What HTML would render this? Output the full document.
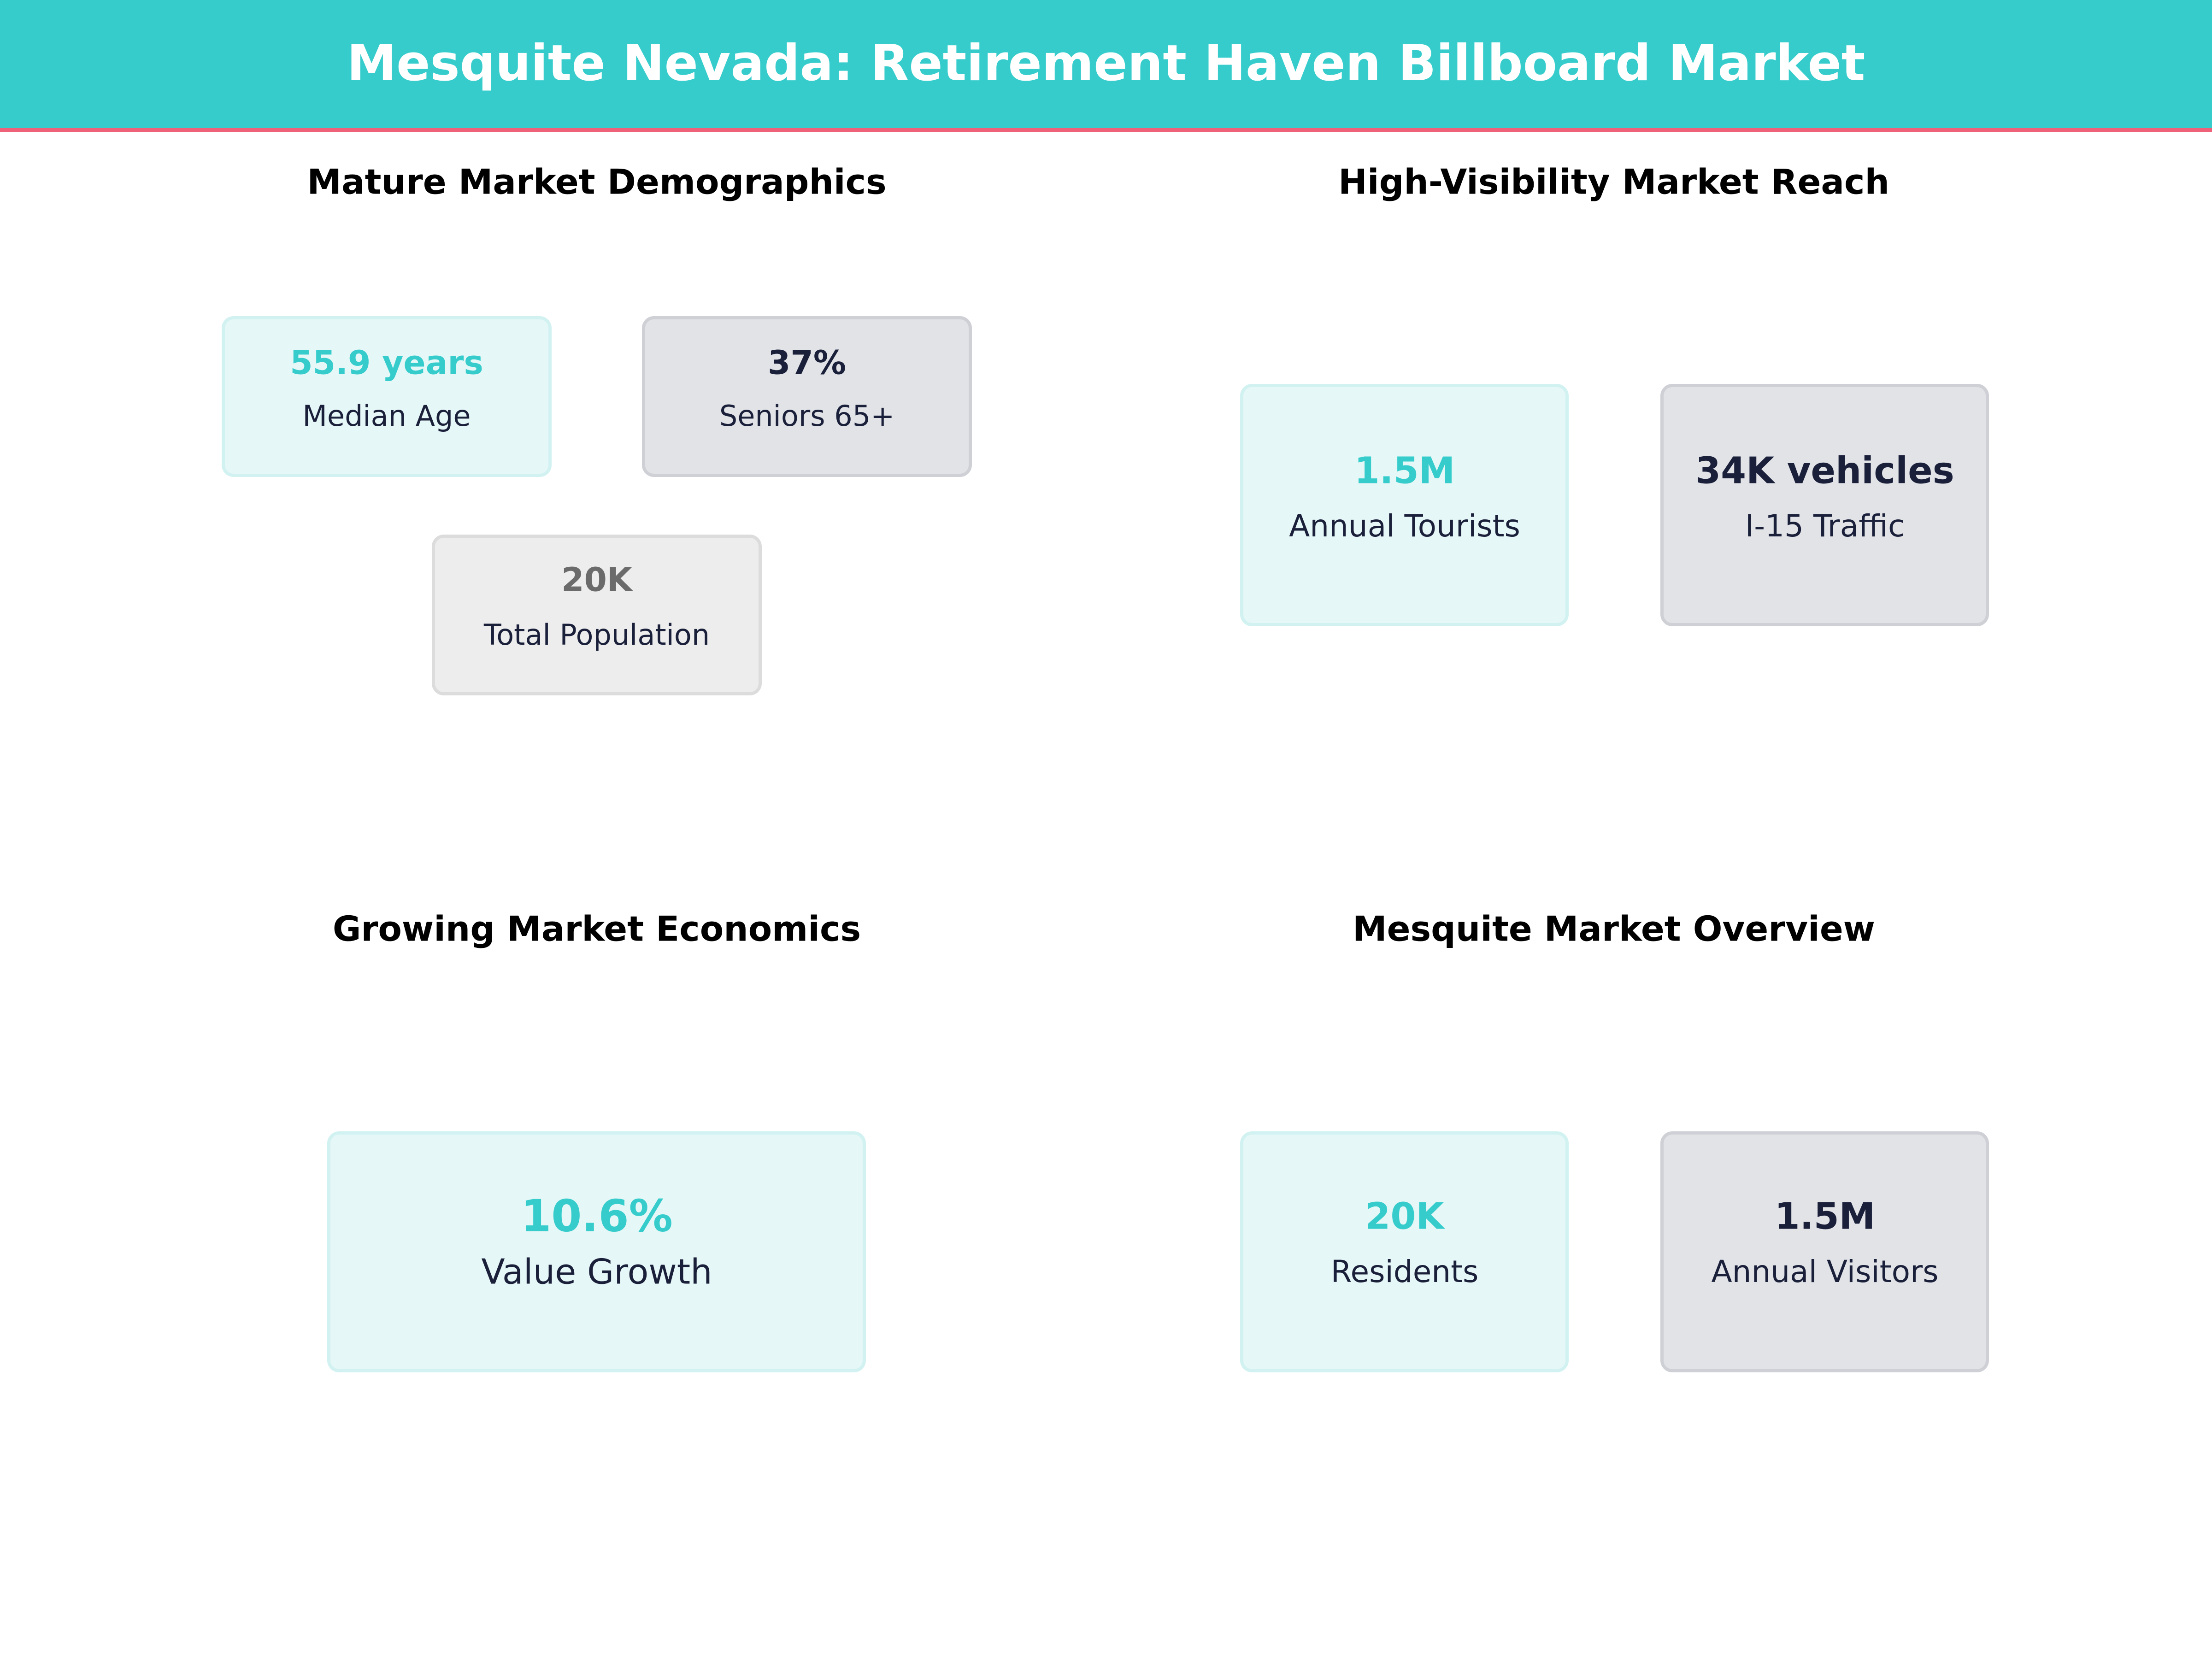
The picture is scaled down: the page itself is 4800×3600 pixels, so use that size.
<!DOCTYPE html>
<html><head><meta charset="utf-8"><style>
body{margin:0;width:4800px;height:3600px;background:#fff;position:relative;overflow:hidden;font-family:"DejaVu Sans","Liberation Sans",sans-serif;}
.hdr{position:absolute;left:0;top:0;width:4800px;height:278px;background:#36CCCC;border-bottom:9px solid #EE6178;}
.t{position:absolute;transform:translate(-50%,-50%);white-space:nowrap;line-height:1;}
.box{position:absolute;box-sizing:border-box;border-radius:26px;border:7px solid;}
.tl{background:#E5F7F7;border-color:#D2F2F2;}
.gr{background:#E2E3E7;border-color:#CFD0D6;}
.lg{background:#EDEDED;border-color:#DCDCDC;}
.st{font-weight:bold;font-size:75px;color:#000;}
.v{font-weight:bold;font-size:71px;}
.l{font-size:62px;color:#1A1F3A;}
.cT{color:#36CCCC}.cD{color:#1A1F3A}.cG{color:#6B6B6B}
</style></head><body>
<div class="hdr"></div>
<div class="t" style="left:2400px;top:138px;color:#fff;font-weight:bold;font-size:108px;">Mesquite Nevada: Retirement Haven Billboard Market</div>

<div class="t st" style="left:1295px;top:395px;">Mature Market Demographics</div>
<div class="t st" style="left:3502px;top:395px;">High-Visibility Market Reach</div>
<div class="t st" style="left:1295px;top:2016px;">Growing Market Economics</div>
<div class="t st" style="left:3502px;top:2016px;">Mesquite Market Overview</div>

<div class="box tl" style="left:481px;top:686px;width:716px;height:349px;"></div>
<div class="t v cT" style="left:839px;top:787px;">55.9 years</div>
<div class="t l" style="left:839px;top:903px;">Median Age</div>

<div class="box gr" style="left:1393px;top:686px;width:716px;height:349px;"></div>
<div class="t v cD" style="left:1751px;top:787px;">37%</div>
<div class="t l" style="left:1751px;top:903px;">Seniors 65+</div>

<div class="box lg" style="left:937px;top:1160px;width:716px;height:349px;"></div>
<div class="t v cG" style="left:1295px;top:1258px;">20K</div>
<div class="t l" style="left:1295px;top:1378px;">Total Population</div>

<div class="box tl" style="left:2691px;top:833px;width:713px;height:526px;"></div>
<div class="t v cT" style="left:3048px;top:1022px;font-size:79px;">1.5M</div>
<div class="t l" style="left:3048px;top:1142px;font-size:66px;">Annual Tourists</div>

<div class="box gr" style="left:3603px;top:833px;width:713px;height:526px;"></div>
<div class="t v cD" style="left:3960px;top:1022px;font-size:79px;">34K vehicles</div>
<div class="t l" style="left:3960px;top:1142px;font-size:66px;">I-15 Traffic</div>

<div class="box tl" style="left:710px;top:2455px;width:1169px;height:523px;"></div>
<div class="t v cT" style="left:1295px;top:2640px;font-size:95px;">10.6%</div>
<div class="t l" style="left:1295px;top:2760px;font-size:75px;">Value Growth</div>

<div class="box tl" style="left:2691px;top:2455px;width:713px;height:523px;"></div>
<div class="t v cT" style="left:3048px;top:2640px;font-size:79px;">20K</div>
<div class="t l" style="left:3048px;top:2760px;font-size:66px;">Residents</div>

<div class="box gr" style="left:3603px;top:2455px;width:713px;height:523px;"></div>
<div class="t v cD" style="left:3960px;top:2640px;font-size:79px;">1.5M</div>
<div class="t l" style="left:3960px;top:2760px;font-size:66px;">Annual Visitors</div>
</body></html>
